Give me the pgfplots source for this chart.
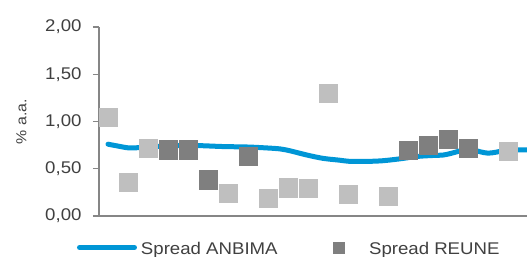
\documentclass[border=0pt]{standalone}
\usepackage{pgfplots}
\pgfplotsset{compat=1.18}
\usepackage{fontspec}
\setmainfont{Liberation Sans}[FakeStretch=1.1]
\definecolor{blueline}{HTML}{0096D6}
\definecolor{darksq}{HTML}{7F7F7F}
\definecolor{lightsq}{HTML}{BFBFBF}
\definecolor{axisgray}{HTML}{868686}
\definecolor{textgray}{HTML}{404040}
\begin{document}
\begin{tikzpicture}
\useasboundingbox (0,0) rectangle (527bp,257bp);
\begin{axis}[
  at={(99bp,41bp)}, anchor=south west,
  scale only axis, width=428bp, height=189bp,
  xmin=-0.45, xmax=20.95, ymin=0, ymax=2,
  clip=false,
  axis x line*=bottom, axis y line*=left,
  axis line style={draw=axisgray, line width=1.3bp, -},
  xtick=\empty,
  ytick={0,0.5,1,1.5,2},
  tick align=outside, major tick length=6bp,
  ytick style={draw=axisgray, line width=1.3bp},
  /pgf/number format/assume math mode=true,
  yticklabel style={font=\fontsize{17}{19}\selectfont, color=textgray, xshift=-8bp,
    /pgf/number format/.cd, use comma, fixed, fixed zerofill, precision=2},
  ylabel={\fontsize{14.5}{16}\selectfont\% a.a.},
  ylabel style={at={(axis description cs:-0.181,0.5)}, anchor=center, color=textgray},
  legend columns=2,
  legend style={at={(axis description cs:-0.0514,-0.174)}, anchor=west,
    draw=none, fill=none, inner sep=0pt, outer sep=0pt,
    column sep=0pt,
    font=\fontsize{17}{20}\selectfont, text=textgray,
    nodes={inner sep=0pt},
    /tikz/every even column/.append style={column sep=55bp}},
]
\addplot[color=blueline, line width=5bp, line cap=round, smooth, tension=0.5,
  legend image code/.code={\draw[line width=5bp, line cap=round, color=blueline] (0bp,1.6bp) -- (55bp,1.6bp); \path (59bp,1.6bp);}]
coordinates {
(0,0.76) (0.5,0.74) (1.1,0.72) (2,0.73) (3.25,0.745) (4.5,0.745) (5.75,0.735)
(7,0.73) (7.95,0.72) (8.6,0.71) (9.1,0.69) (9.95,0.645) (10.75,0.61) (11.6,0.59)
(12.1,0.578) (13,0.578) (13.75,0.585) (14.6,0.605) (15.45,0.63) (16.2,0.64)
(16.75,0.645) (17.1,0.66) (17.45,0.68) (17.8,0.70) (18.25,0.70) (18.6,0.68)
(19,0.665) (19.4,0.675) (19.75,0.69) (20.3,0.70) (20.95,0.70)
};
\addlegendentry{Spread ANBIMA}
\addplot[only marks, mark=square*, mark size=9.2bp, color=darksq, mark options={draw=none, fill=darksq},
  legend image code/.code={\fill[darksq] (0bp,-3.9bp) rectangle (11bp,7.1bp); \path (36bp,1.6bp);}]
coordinates {
(3,0.70) (4,0.70) (5,0.386) (7,0.635) (15,0.695) (16,0.748) (17,0.81) (18,0.716)
};
\addlegendentry{Spread REUNE}
\addplot[only marks, mark=square*, mark size=9.2bp, color=lightsq, mark options={draw=none, fill=lightsq}, forget plot]
coordinates {
(0,1.048) (1,0.36) (2,0.72) (6,0.24) (8,0.187) (9,0.30) (10,0.293) (11,1.298)
(12,0.23) (14,0.208) (20,0.685)
};
\end{axis}
\end{tikzpicture}
\end{document}
